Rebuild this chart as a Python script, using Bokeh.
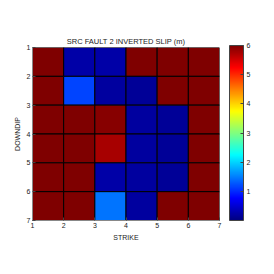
from bokeh.plotting import figure
from bokeh.models import ColumnDataSource, LinearColorMapper, ColorBar, FixedTicker, Range1d
from bokeh.embed import file_html
from bokeh.resources import INLINE

# Data: slip (m) per cell, rows = downdip 1..6, cols = strike 1..6
strike_edges = [1, 2, 3, 4, 5, 6, 7]
downdip_edges = [1, 2, 3, 4, 5, 6, 7]
slip = [
    [6.0, 0.25, 0.25, 6.0, 6.0, 6.0],
    [6.0, 1.15, 0.2, 0.15, 6.0, 6.0],
    [6.0, 6.0, 5.95, 0.2, 0.15, 6.0],
    [6.0, 6.0, 5.75, 0.2, 0.15, 6.0],
    [6.0, 6.0, 0.25, 0.2, 0.15, 6.0],
    [6.0, 6.0, 1.45, 0.2, 6.0, 6.0],
]
x_ticks = [1, 2, 3, 4, 5, 6, 7]
y_ticks = [1, 2, 3, 4, 5, 6, 7]
cbar_ticks = [1, 2, 3, 4, 5, 6]
title_text = "SRC FAULT 2 INVERTED SLIP (m)"


def jet(n=256):
    cols = []
    for i in range(n):
        f = i / (n - 1)
        r = min(max(min(4 * f - 1.5, -4 * f + 4.5), 0), 1)
        g = min(max(min(4 * f - 0.5, -4 * f + 3.5), 0), 1)
        b = min(max(min(4 * f + 0.5, -4 * f + 2.5), 0), 1)
        cols.append("#%02x%02x%02x" % (int(r * 255), int(g * 255), int(b * 255)))
    return cols


left, right, top, bottom, val = [], [], [], [], []
for i, row in enumerate(slip):
    for j, v in enumerate(row):
        left.append(strike_edges[j])
        right.append(strike_edges[j + 1])
        top.append(downdip_edges[i])
        bottom.append(downdip_edges[i + 1])
        val.append(v)
src = ColumnDataSource(dict(left=left, right=right, top=top, bottom=bottom, val=val))

mapper = LinearColorMapper(palette=jet(), low=0, high=6)

FONT = "Liberation Sans"

p = figure(width=266, height=266, output_backend="svg", toolbar_location=None,
           x_range=Range1d(1, 7), y_range=Range1d(7, 1),
           min_border_left=32, min_border_top=47, min_border_bottom=46, min_border_right=47)
p.quad(left="left", right="right", top="top", bottom="bottom", source=src,
       fill_color={"field": "val", "transform": mapper}, line_color="black", line_width=1)

p.title.text = title_text
p.title.align = "center"
p.title.text_font = FONT
p.title.text_font_size = "7.5px"
p.title.text_font_style = "normal"
p.title.text_color = "#222222"
p.title.standoff = 3

p.grid.visible = False
p.outline_line_color = None
for ax, lab, ticks in ((p.xaxis[0], "STRIKE", x_ticks), (p.yaxis[0], "DOWNDIP", y_ticks)):
    ax.ticker = FixedTicker(ticks=ticks)
    ax.axis_label = lab
    ax.axis_label_text_font = FONT
    ax.axis_label_text_font_size = "7px"
    ax.axis_label_text_font_style = "normal"
    ax.axis_label_text_color = "#222222"
    ax.major_label_text_font = FONT
    ax.major_label_text_font_size = "7px"
    ax.major_label_text_color = "#222222"
    ax.major_tick_out = 0
    ax.major_tick_in = 3
    ax.minor_tick_line_color = None
    ax.axis_line_color = "#888888"
    ax.major_tick_line_color = "#444444"
    ax.major_label_standoff = 2
    ax.axis_label_standoff = 3

cb = ColorBar(color_mapper=mapper, ticker=FixedTicker(ticks=cbar_ticks), width=14, height=175,
              location=(197, 0), padding=0, margin=0, bar_line_color="#444444",
              major_label_text_font=FONT, major_label_text_font_size="7px",
              major_label_text_color="#222222", major_tick_line_color="#444444",
              major_tick_in=3, major_tick_out=0, label_standoff=3,
              minor_tick_line_color=None, border_line_color=None,
              background_fill_color=None)
p.add_layout(cb, "center")

open("out.html", "w").write(file_html(p, INLINE))
